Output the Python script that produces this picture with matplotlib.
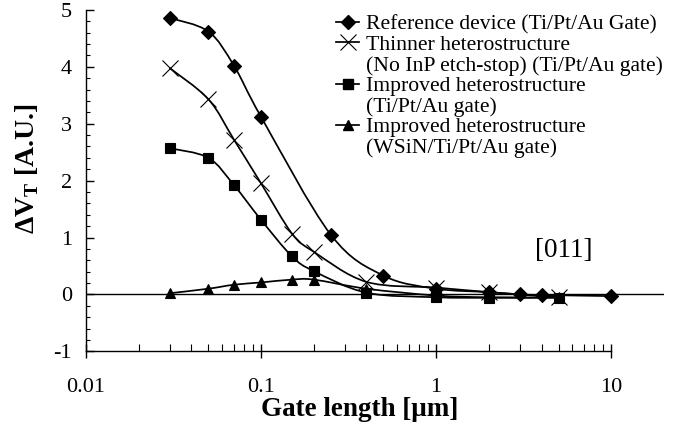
import matplotlib
matplotlib.use('Agg')
import matplotlib.pyplot as plt
import numpy as np
from matplotlib.path import Path
from matplotlib.patches import PathPatch
from matplotlib.lines import Line2D
from matplotlib.ticker import MultipleLocator, FixedLocator, NullFormatter

plt.rcParams['font.family'] = ['Liberation Serif', 'DejaVu Serif']
plt.rcParams['mathtext.fontset'] = 'custom'
plt.rcParams['mathtext.rm'] = 'Liberation Serif'
plt.rcParams['mathtext.bf'] = 'Liberation Serif:bold'
plt.rcParams['axes.unicode_minus'] = False

# Datos (longitud de puerta en um, Delta VT en A.U.)
x_ref = [0.03, 0.05, 0.07, 0.1, 0.25, 0.5, 1, 2, 3, 4, 10]
y_ref = [4.86, 4.62, 4.02, 3.12, 1.05, 0.33, 0.10, 0.04, 0.0, -0.01, -0.03]

x_thin = [0.03, 0.05, 0.07, 0.1, 0.15, 0.2, 0.4, 1, 2, 5]
y_thin = [3.98, 3.43, 2.72, 1.95, 1.07, 0.75, 0.22, 0.12, 0.04, -0.05]

x_imp = [0.03, 0.05, 0.07, 0.1, 0.15, 0.2, 0.4, 1, 2, 5]
y_imp = [2.57, 2.40, 1.92, 1.31, 0.67, 0.41, 0.03, -0.05, -0.06, -0.06]

x_wsin = [0.03, 0.05, 0.07, 0.1, 0.15, 0.2, 0.4, 1, 2, 5]
y_wsin = [0.02, 0.10, 0.17, 0.21, 0.26, 0.26, 0.10, -0.02, -0.05, -0.05]

labels = ['Reference device (Ti/Pt/Au Gate)',
          'Thinner heterostructure', '(No InP etch-stop) (Ti/Pt/Au gate)',
          'Improved heterostructure', '(Ti/Pt/Au gate)',
          'Improved heterostructure', '(WSiN/Ti/Pt/Au gate)']


def smooth_path(xs, ys):
    # curva suavizada tipo Excel (Catmull-Rom -> Bezier) en espacio log(x)
    lx = np.log10(xs)
    y = np.asarray(ys, float)
    p = np.column_stack([lx, y])
    n = len(p)
    verts = [p[0]]
    codes = [Path.MOVETO]
    for i in range(n - 1):
        p0 = p[max(i - 1, 0)]
        p1 = p[i]
        p2 = p[i + 1]
        p3 = p[min(i + 2, n - 1)]
        c1 = p1 + (p2 - p0) / 6.0
        c2 = p2 - (p3 - p1) / 6.0
        verts += [c1, c2, p2]
        codes += [Path.CURVE4] * 3
    verts = np.array(verts)
    verts[:, 0] = 10 ** verts[:, 0]
    return Path(verts, codes)


fig = plt.figure(figsize=(6.88, 4.30), dpi=100)
ax = fig.add_axes([0.125, 0.183, 0.84, 0.794])

ax.set_xscale('log')
ax.set_xlim(0.01, 20)
ax.set_ylim(-1, 5)

ax.axhline(0, color='black', lw=1.0, zorder=1)

series = [
    (x_ref, y_ref, dict(marker='D', ms=7, mew=0.8)),
    (x_thin, y_thin, dict(marker='x', ms=11.5, mew=0.8)),
    (x_imp, y_imp, dict(marker='s', ms=7, mew=0.8)),
    (x_wsin, y_wsin, dict(marker='^', ms=7, mew=0.8)),
]
for xs, ys, mk in series:
    ax.add_patch(PathPatch(smooth_path(xs, ys), fill=False, edgecolor='black',
                           lw=1.25, zorder=2))
    ax.plot(xs, ys, linestyle='none', color='black', mfc='black', mec='black',
            zorder=3, **mk)

ax.text(3.65, 0.77, '[011]', fontsize=19.5, va='center', ha='left')

# ejes
for s in ['top', 'right']:
    ax.spines[s].set_visible(False)
ax.spines['bottom'].set_bounds(0.01, 10)
ax.spines['left'].set_linewidth(1.0)
ax.spines['bottom'].set_linewidth(1.0)

ax.xaxis.set_major_locator(FixedLocator([0.01, 0.1, 1, 10]))
minors = [m * d for d in [0.01, 0.1, 1] for m in range(2, 10)]
ax.xaxis.set_minor_locator(FixedLocator(minors))
ax.xaxis.set_minor_formatter(NullFormatter())
ax.set_xticklabels(['0.01', '0.1', '1', '10'])
ax.yaxis.set_major_locator(MultipleLocator(1))
ax.yaxis.set_minor_locator(MultipleLocator(0.2))

ax.tick_params(axis='x', which='major', direction='inout', length=10, width=1,
               labelsize=16, pad=14)
ax.tick_params(axis='x', which='minor', direction='in', length=5, width=0.8)
ax.tick_params(axis='y', which='major', direction='in', length=6, width=1,
               labelsize=16, pad=10)
ax.tick_params(axis='y', which='minor', direction='in', length=3, width=0.8)

ax.set_xlabel('Gate length [μm]', fontsize=19.5, fontweight='bold')
ax.xaxis.set_label_coords(0.474, -0.135)
ax.set_ylabel(r'ΔV$_\mathregular{T}$ [A.U.]', fontsize=20, fontweight='bold')
ax.yaxis.set_label_coords(-0.078, 0.534)

# leyenda
blank = Line2D([], [], linestyle='none')
handles = [
    Line2D([], [], color='black', lw=1.25, marker='D', ms=7),
    Line2D([], [], color='black', lw=1.25, marker='x', ms=11.5, mew=0.8),
    blank,
    Line2D([], [], color='black', lw=1.25, marker='s', ms=7),
    blank,
    Line2D([], [], color='black', lw=1.25, marker='^', ms=7),
    blank,
]
ax.legend(handles, labels, loc='upper left', bbox_to_anchor=(0.4256, 1.0),
          frameon=False, fontsize=15.6, handlelength=1.05, handletextpad=0.3,
          labelspacing=0.02, borderpad=0.2, borderaxespad=0)

fig.savefig('out.png', dpi=100)
